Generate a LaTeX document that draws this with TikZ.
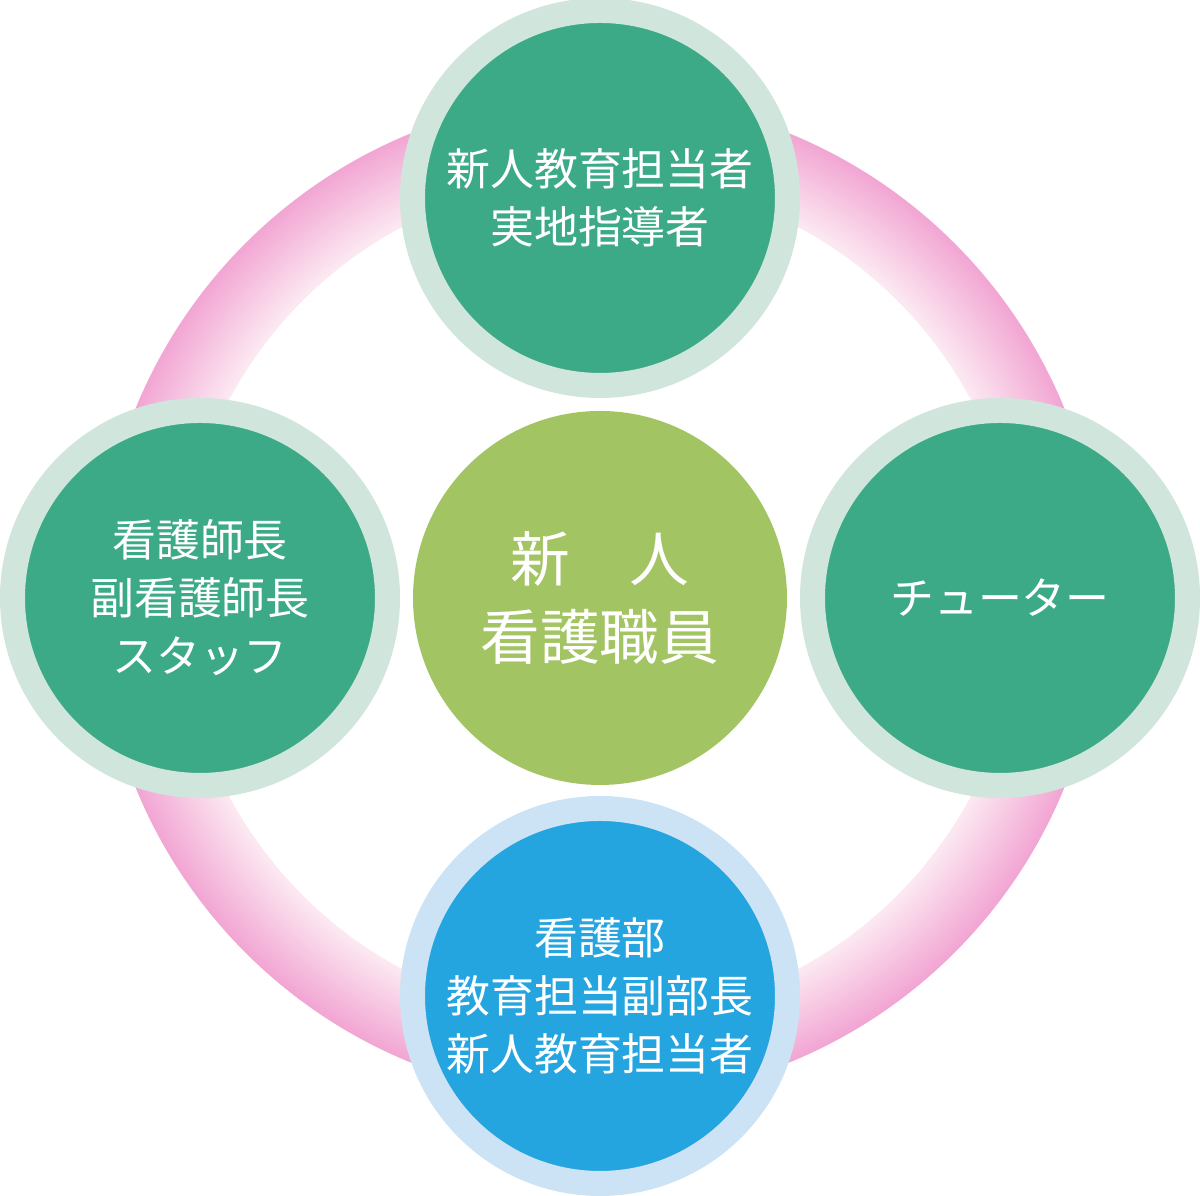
\documentclass[tikz,border=0pt]{standalone}
\usepackage{fontspec}
\setmainfont{Noto Sans CJK JP}
\definecolor{ringout}{HTML}{F2A6D3}
\definecolor{ringin}{HTML}{FCEAF2}
\definecolor{greenfill}{HTML}{3DAA87}
\definecolor{greenrim}{HTML}{D0E5DB}
\definecolor{bluefill}{HTML}{25A5E0}
\definecolor{bluerim}{HTML}{CCE3F5}
\definecolor{centerfill}{HTML}{A3C463}
\tikzset{
  role/.style={circle, fill=greenfill, draw=greenrim, line width=0.25cm, minimum size=3.75cm, inner sep=0, text=white, align=center, font=\fontsize{12.5}{16.5}\selectfont},
}
\begin{document}
\begin{tikzpicture}
        \useasboundingbox (0,0) rectangle (12,11.96);
        \foreach \i in {0,...,39}
            {\pgfmathsetmacro{\mix}{100-\i*2.5}
             \draw[line width=0.03cm, color=ringout!\mix!ringin] (6,5.98) circle ({5.0-\i*0.02});}
        \node[circle, fill=centerfill, minimum size=3.74cm, inner sep=0, text=white, align=center, font=\fontsize{17}{22}\selectfont] (new) at (6,5.98) {新\hspace{1em}人\\看護職員};
        \node[role] (top) at (6,9.98) {新人教育担当者\\実地指導者};
        \node[role] (right) at (10,5.98) {チューター};
        \node[role] (left) at (2,5.98) {看護師長\\副看護師長\\スタッフ};
        \node[role, fill=bluefill, draw=bluerim] (bottom) at (6,2.0) {看護部\\教育担当副部長\\新人教育担当者};
    \end{tikzpicture}
\end{document}
